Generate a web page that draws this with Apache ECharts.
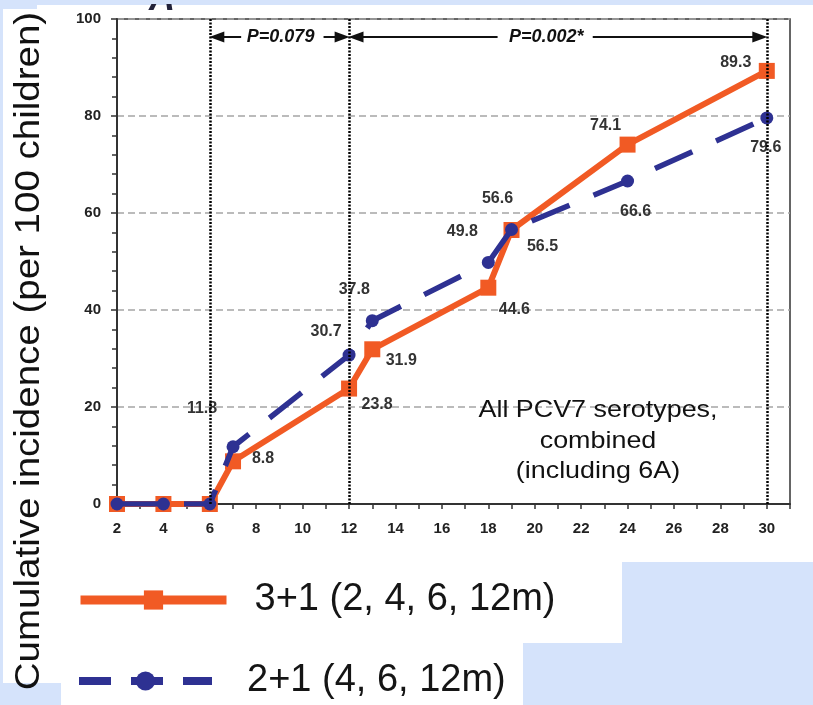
<!DOCTYPE html>
<html><head><meta charset="utf-8">
<script src="https://cdn.jsdelivr.net/npm/echarts@6/dist/echarts.min.js"></script>
<style>html,body{margin:0;padding:0;background:#d5e3fb}#c{width:813px;height:705px}</style>
</head><body><div id="c"></div>
<script>
// ---------- data ----------
const months = [2, 4, 6, 7, 12, 13, 18, 19, 24, 30];
const schedule31 = [0, 0, 0, 8.8, 23.8, 31.9, 44.6, 56.5, 74.1, 89.3];
const schedule21 = [0, 0, 0, 11.8, 30.7, 37.8, 49.8, 56.6, 66.6, 79.6];
const seriesNames = ['3+1 (2, 4, 6, 12m)', '2+1 (4, 6, 12m)'];
const xTickLabels = ['2','4','6','8','10','12','14','16','18','20','22','24','26','28','30'];
const yTickLabels = ['0','20','40','60','80','100'];
const boundaryMonths = [6, 12, 30];
const pLabels = ['P=0.079', 'P=0.002*'];
const noteLines = ['All PCV7 serotypes,', 'combined', '(including 6A)'];
const yTitle = 'Cumulative incidence (per 100 children)';
const panelLetter = 'A';

// ---------- layout / style ----------
const FONT = '"Liberation Sans", Arial, Helvetica, sans-serif';
const ORANGE = '#f15a24', NAVY = '#2e3192', BG = '#d5e3fb';
const labelOffset31 = [null,null,null,[30,-3],[28,16],[29,11],[26,22],[31,17],[-22,-19],[-31,-8]];
const labelOffset21 = [null,null,null,[-31,-38],[-23,-24],[-18,-31],[-26,-31],[-14,-31],[8,31],[-1,30]];
const arrowY = 96.3;
// [tail, tip-symbol-centre] in months
const arrowSegs = [[7.35, 6.3], [10.9, 11.7], [18.4, 12.3], [22.5, 29.7]];
const pTextX = [9.05, 20.5];

function buildData(vals, offsets) {
  return months.map((m, i) => ({
    value: [m, vals[i]],
    label: offsets[i] ? { show: true, offset: offsets[i] } : { show: false }
  }));
}
const labelBase = { show: true, position: 'inside', fontSize: 16, fontWeight: 'bold', color: '#333', fontFamily: FONT };

const markLineData = boundaryMonths.map(m => ({ xAxis: m }));
arrowSegs.forEach(s => markLineData.push([
  { coord: [s[0], arrowY], symbol: 'none', lineStyle: { type: 'solid', width: 2, color: '#111' } },
  { coord: [s[1], arrowY], symbol: 'triangle', symbolSize: [11, 15] }
]));

const chart = echarts.init(document.getElementById('c'), null, { renderer: 'canvas' });
chart.setOption({
  animation: false,
  backgroundColor: BG,
  textStyle: { fontFamily: FONT },
  grid: { left: 117, right: 23, top: 19, bottom: 201, show: true, borderColor: '#333', borderWidth: 1.5, backgroundColor: 'transparent', z: 0 },
  xAxis: {
    type: 'value', min: 2, max: 31, interval: 1,
    axisLine: { lineStyle: { color: '#333', width: 2 } },
    axisTick: { show: true, length: 5, lineStyle: { color: '#333', width: 1.5 } },
    axisLabel: {
      margin: 17, fontSize: 15, fontWeight: 'bold', color: '#222', fontFamily: FONT,
      formatter: v => xTickLabels.includes(String(v)) ? String(v) : ''
    },
    splitLine: { show: false }
  },
  yAxis: {
    type: 'value', min: 0, max: 100, interval: 20,
    axisLine: { show: true, lineStyle: { color: '#333', width: 2 } },
    axisTick: { show: true, length: 6, lineStyle: { color: '#333', width: 1.5 } },
    minorTick: { show: true, splitNumber: 5, length: 5, lineStyle: { color: '#333', width: 1.5 } },
    axisLabel: {
      margin: 16, fontSize: 15, fontWeight: 'bold', color: '#222', fontFamily: FONT,
      formatter: v => yTickLabels.includes(String(v)) ? String(v) : ''
    },
    splitLine: { show: true, lineStyle: { color: '#a5a5a5', width: 1.5, type: [7, 4] } }
  },
  legend: [
    { data: [seriesNames[0]], left: 76, top: 581, padding: 0, itemWidth: 146, itemHeight: 24, selectedMode: false,
      lineStyle: { width: 9 },
      textStyle: { fontSize: 38, color: '#151515', fontFamily: FONT, padding: [0, 0, 0, 23] } },
    { data: [seriesNames[1]], left: 75, top: 662, padding: 0, itemWidth: 133, itemHeight: 24, selectedMode: false,
      lineStyle: { width: 8, type: [32, 20] },
      textStyle: { fontSize: 38, color: '#151515', fontFamily: FONT, padding: [0, 0, 0, 30] } }
  ],
  series: [
    {
      name: 'annotations', type: 'line', data: [], z: 1, silent: true,
      markLine: {
        silent: true, symbol: ['none', 'none'], label: { show: false },
        lineStyle: { color: '#000', width: 2.5, type: [2, 1.5] },
        data: markLineData
      },
      markPoint: {
        silent: true, symbol: 'rect', symbolSize: 1, itemStyle: { color: 'transparent' },
        label: { show: true, position: 'inside', fontSize: 18, fontWeight: 'bold', fontStyle: 'italic', color: '#111', fontFamily: FONT, formatter: p => p.name },
        data: pLabels.map((t, i) => ({ name: t, coord: [pTextX[i], arrowY] }))
      }
    },
    {
      name: seriesNames[0], type: 'line', z: 2,
      symbol: 'rect', symbolSize: 16,
      lineStyle: { color: ORANGE, width: 6 },
      itemStyle: { color: ORANGE },
      label: labelBase,
      data: buildData(schedule31, labelOffset31)
    },
    {
      name: seriesNames[1], type: 'line', z: 3,
      symbol: 'circle', symbolSize: 13,
      lineStyle: { color: NAVY, width: 5.5, type: [41, 26] },
      itemStyle: { color: NAVY },
      label: labelBase,
      data: buildData(schedule21, labelOffset21)
    }
  ],
  graphic: { elements: [
    { type: 'rect', z: -10, silent: true, shape: { x: 37, y: 5, width: 776, height: 557 }, style: { fill: '#fff' } },
    { type: 'rect', z: -10, silent: true, shape: { x: 3, y: 9, width: 58, height: 674 }, style: { fill: '#fff' } },
    { type: 'rect', z: -10, silent: true, shape: { x: 61, y: 562, width: 561, height: 81 }, style: { fill: '#fff' } },
    { type: 'rect', z: -10, silent: true, shape: { x: 61, y: 643, width: 462, height: 62 }, style: { fill: '#fff' } },
    { type: 'text', z: 50, silent: true, x: 162, y: 18,
      style: { text: panelLetter, fontSize: 36, fontWeight: 'bold', fontStyle: 'italic', fontFamily: FONT, fill: '#22223a', align: 'center', verticalAlign: 'bottom' } },
    { type: 'rect', z: 60, silent: true, shape: { x: 0, y: 0, width: 813, height: 4 }, style: { fill: BG } },
    { type: 'text', z: 50, silent: true, x: 29, y: 351, rotation: Math.PI / 2, scaleX: 1.1,
      style: { text: yTitle, fontSize: 35, fontFamily: FONT, fill: '#111', align: 'center', verticalAlign: 'middle' } },
    { type: 'text', z: 50, silent: true, x: 598, y: 441, scaleX: 1.12,
      style: { text: noteLines.join('\n'), fontSize: 24, lineHeight: 30.5, fontFamily: FONT, fill: '#111', align: 'center', verticalAlign: 'middle' } }
  ] }
});
</script></body></html>
